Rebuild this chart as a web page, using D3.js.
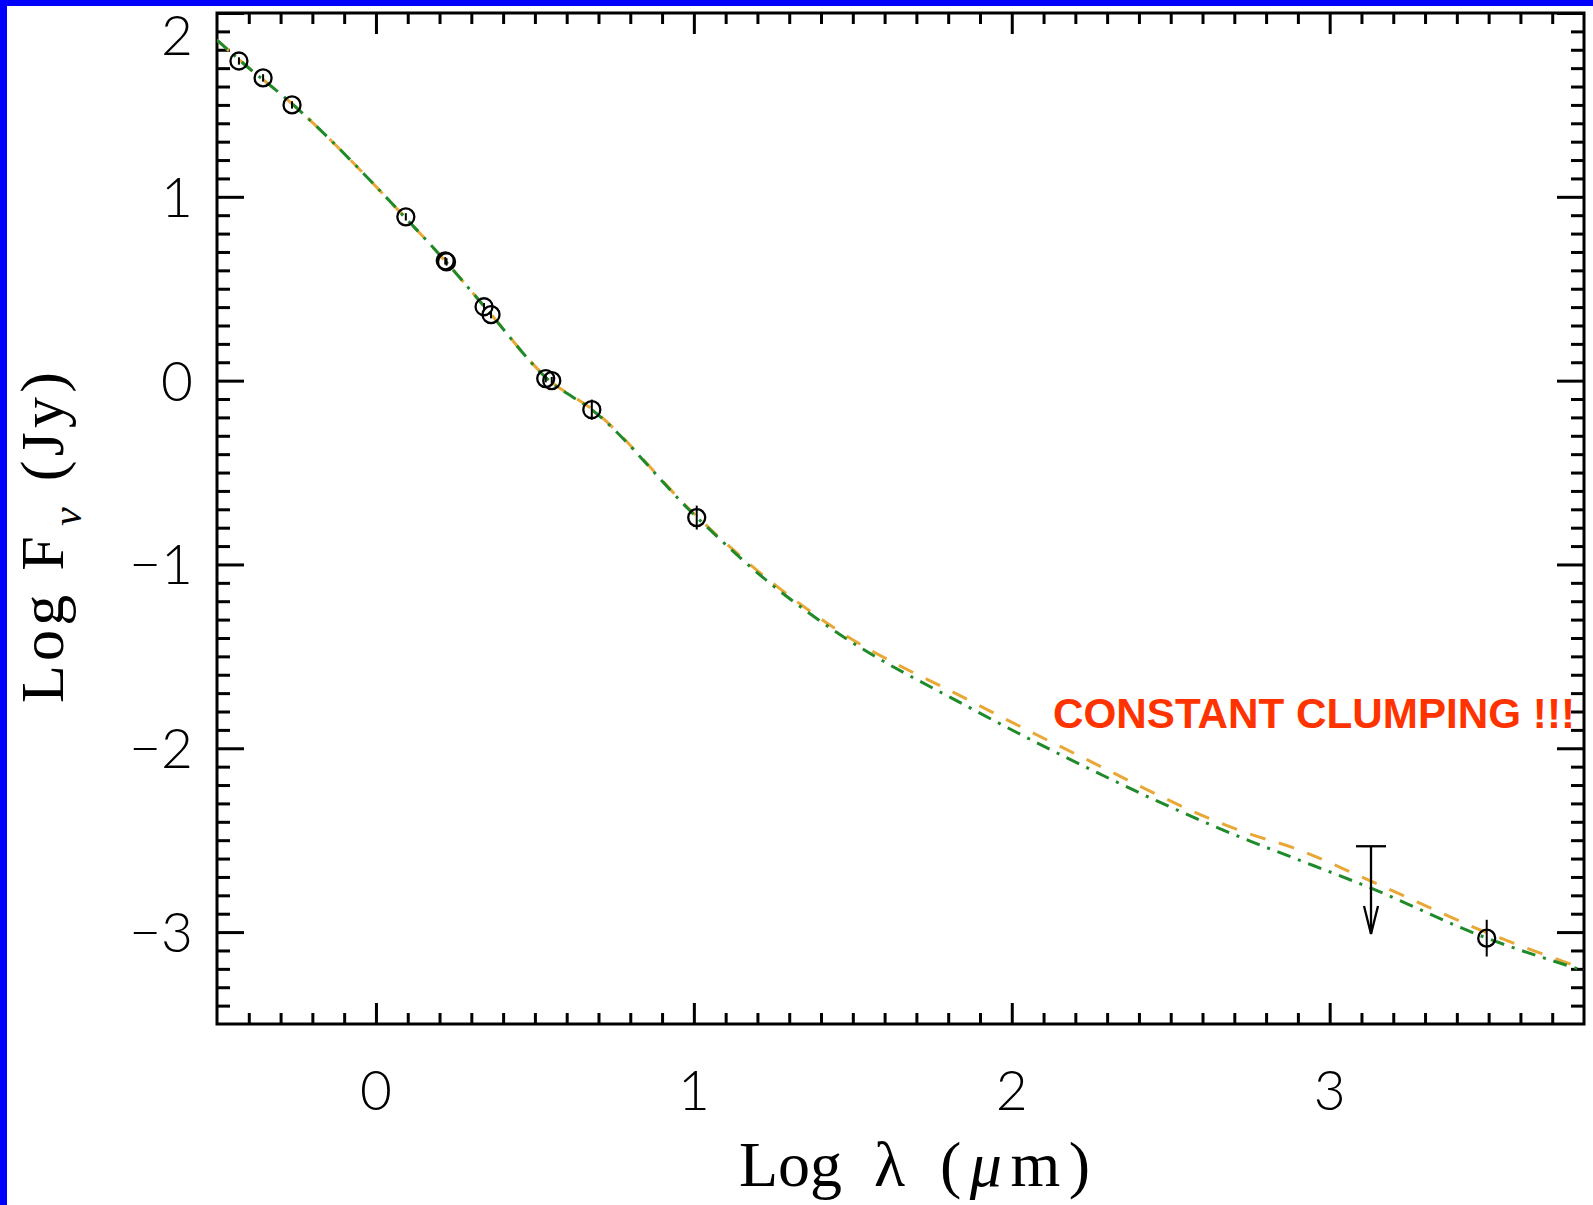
<!DOCTYPE html>
<html>
<head>
<meta charset="utf-8">
<script src="https://cdn.jsdelivr.net/npm/d3@7"></script>
<style>
  html, body { margin: 0; padding: 0; background: #fff; }
  svg { display: block; }
</style>
</head>
<body>
<script>
// ---------------- DATA ----------------
// observed photometry: log wavelength (micron), log flux (Jy), error
const obsLogLambda = [-0.431, -0.355, -0.264, 0.094, 0.218, 0.222, 0.340, 0.362, 0.534, 0.553, 0.679, 1.009, 3.494];
const obsLogFlux   = [1.739, 1.647, 1.500, 0.891, 0.652, 0.646, 0.402, 0.359, 0.011, 0.000, -0.158, -0.745, -3.033];
const obsErr       = [0.02, 0.02, 0.02, 0.02, 0.02, 0.02, 0.02, 0.02, 0.02, 0.02, 0.055, 0.065, 0.10];

// upper limit
const ulLogLambda = [3.13];
const ulLogFlux   = [-2.533];
const ulArrowTip  = [-3.01];

// model curves
const modelLogLambda = [-0.5, -0.43, -0.26, 0.09, 0.22, 0.35, 0.545, 0.68, 1.01, 1.24, 1.45, 1.86, 2.17, 2.75, 2.88, 3.13, 3.49, 3.8];
const modelOrange    = [1.853, 1.745, 1.50, 0.891, 0.647, 0.385, 0.003, -0.156, -0.740, -1.090, -1.355, -1.734, -2.005, -2.467, -2.538, -2.723, -3.000, -3.200];
const modelGreen     = [1.853, 1.745, 1.50, 0.891, 0.647, 0.385, 0.000, -0.160, -0.745, -1.103, -1.370, -1.772, -2.049, -2.505, -2.592, -2.761, -3.030, -3.210];

const xMajorTicks = [0, 1, 2, 3];
const yMajorTicks = [2, 1, 0, -1, -2, -3];
const xTickLabels = ["0", "1", "2", "3"];
const yTickLabels = ["2", "1", "0", "\u22121", "\u22122", "\u22123"];

const annotation = "CONSTANT CLUMPING !!!";

// ---------------- LAYOUT ----------------
const W = 1593, H = 1205;
const L = 217, R = 1584, T = 13, B = 1024;

const svg = d3.select("body").append("svg").attr("width", W).attr("height", H);
svg.append("rect").attr("width", W).attr("height", H).attr("fill", "#fff");
// blue border (left & top)
svg.append("rect").attr("x", 0).attr("y", 0).attr("width", 7).attr("height", H).attr("fill", "#0000ff");
svg.append("rect").attr("x", 0).attr("y", 0).attr("width", W).attr("height", 6).attr("fill", "#0000ff");

const x = d3.scaleLinear().domain([-0.5, 3.8]).range([L, R]);
const y = d3.scaleLinear().domain([-3.5, 2]).range([B, T]);

svg.append("defs").append("clipPath").attr("id", "clip")
  .append("rect").attr("x", L).attr("y", T).attr("width", R - L).attr("height", B - T);

// ---------------- AXES ----------------
const xMinor = d3.range(-4, 38).map(d => d / 10).filter(d => !xMajorTicks.some(m => Math.abs(m - d) < 1e-9));
const yMinor = d3.range(-34, 20).map(d => d / 10).filter(d => !yMajorTicks.some(m => Math.abs(m - d) < 1e-9));

function axisGroup(axis, transform) {
  const g = svg.append("g").attr("transform", transform).call(axis);
  g.select(".domain").remove();
  g.selectAll("line").attr("stroke", "#000").attr("stroke-width", 3);
  g.selectAll("text").remove();
  return g;
}
// bottom & top (ticks pointing inward)
axisGroup(d3.axisTop(x).tickValues(xMajorTicks).tickSize(21), `translate(0,${B})`);
axisGroup(d3.axisTop(x).tickValues(xMinor).tickSize(11), `translate(0,${B})`);
axisGroup(d3.axisBottom(x).tickValues(xMajorTicks).tickSize(21), `translate(0,${T})`);
axisGroup(d3.axisBottom(x).tickValues(xMinor).tickSize(11), `translate(0,${T})`);
// left & right
axisGroup(d3.axisRight(y).tickValues(yMajorTicks).tickSize(27), `translate(${L},0)`);
axisGroup(d3.axisRight(y).tickValues(yMinor).tickSize(13), `translate(${L},0)`);
axisGroup(d3.axisLeft(y).tickValues(yMajorTicks).tickSize(27), `translate(${R},0)`);
axisGroup(d3.axisLeft(y).tickValues(yMinor).tickSize(13), `translate(${R},0)`);

// frame
svg.append("rect").attr("x", L).attr("y", T).attr("width", R - L).attr("height", B - T)
  .attr("fill", "none").attr("stroke", "#000").attr("stroke-width", 3);

// tick labels
const tickFont = "Lato, 'Open Sans', 'DejaVu Sans', sans-serif";
svg.append("g").selectAll("text").data(xMajorTicks).join("text")
  .attr("x", d => x(d)).attr("y", B + 86)
  .attr("text-anchor", "middle")
  .attr("font-family", tickFont).attr("font-weight", 300).attr("font-size", 55)
  .attr("fill", "#000")
  .text((d, i) => xTickLabels[i]);

svg.append("g").selectAll("text").data(yMajorTicks).join("text")
  .attr("x", L - 24)
  .attr("y", d => Math.max(y(d) + 20, 55))
  .attr("text-anchor", "end")
  .attr("font-family", tickFont).attr("font-weight", 300).attr("font-size", 55)
  .attr("fill", "#000")
  .text((d, i) => yTickLabels[i]);

// axis titles
const titleFont = "'Liberation Serif', 'DejaVu Serif', serif";
const xt = svg.append("g")
  .attr("font-family", titleFont).attr("font-size", 64).attr("fill", "#000");
xt.append("text").attr("x", 739).attr("y", 1186).text("Log");
xt.append("text").attr("x", 874).attr("y", 1186).text("\u03bb");
xt.append("text").attr("x", 940).attr("y", 1186)
  .attr("textLength", 150).attr("lengthAdjust", "spacing")
  .html("(<tspan font-style='italic'>\u03bc</tspan>m)");

const yt = svg.append("text")
  .attr("transform", "translate(63,703) rotate(-90)")
  .attr("x", 0).attr("y", 0)
  .attr("font-family", titleFont).attr("font-size", 62)
  .attr("fill", "#000");
yt.append("tspan").text("Log F");
yt.append("tspan").attr("dx", 6).attr("dy", 18).attr("font-size", 42).attr("font-style", "italic").text("\u03bd");
yt.append("tspan").attr("dx", 22).attr("dy", -18).text("(Jy)");
yt.attr("textLength", 331).attr("lengthAdjust", "spacing");

// ---------------- MODEL CURVES ----------------
const plot = svg.append("g").attr("clip-path", "url(#clip)");
const line = d3.line().x(d => x(d[0])).y(d => y(d[1])).curve(d3.curveMonotoneX);

plot.append("path")
  .datum(modelLogLambda.map((v, i) => [v, modelOrange[i]]))
  .attr("d", line).attr("fill", "none")
  .attr("stroke", "#e9a836").attr("stroke-width", 3)
  .attr("stroke-dasharray", "16,14");

plot.append("path")
  .datum(modelLogLambda.map((v, i) => [v, modelGreen[i]]))
  .attr("d", line).attr("fill", "none")
  .attr("stroke", "#1f8a2a").attr("stroke-width", 3)
  .attr("stroke-dasharray", "14,8,3,8");

// ---------------- OBSERVATIONS ----------------
const obs = obsLogLambda.map((v, i) => ({ x: v, y: obsLogFlux[i], e: obsErr[i] }));
const og = svg.append("g");
og.selectAll("line.err").data(obs).join("line").attr("class", "err")
  .attr("x1", d => x(d.x)).attr("x2", d => x(d.x))
  .attr("y1", d => y(d.y - d.e)).attr("y2", d => y(d.y + d.e))
  .attr("stroke", "#000").attr("stroke-width", 2);
og.selectAll("circle").data(obs).join("circle")
  .attr("cx", d => x(d.x)).attr("cy", d => y(d.y)).attr("r", 8.5)
  .attr("fill", "none").attr("stroke", "#000").attr("stroke-width", 2.3);

// upper limit
const ul = ulLogLambda.map((v, i) => ({ x: v, y: ulLogFlux[i], tip: ulArrowTip[i] }));
const ug = svg.append("g").attr("stroke", "#000").attr("stroke-width", 2.3).attr("fill", "none");
ul.forEach(d => {
  const cx = x(d.x), y0 = y(d.y), y1 = y(d.tip);
  ug.append("line").attr("x1", cx - 15).attr("x2", cx + 15).attr("y1", y0).attr("y2", y0);
  ug.append("line").attr("x1", cx).attr("x2", cx).attr("y1", y0).attr("y2", y1);
  ug.append("path").attr("d", `M${cx - 7},${y1 - 28}L${cx},${y1}L${cx + 7},${y1 - 28}`);
});

// annotation
svg.append("text")
  .attr("x", 1053).attr("y", 728)
  .attr("font-family", "'Liberation Sans', Arial, sans-serif")
  .attr("font-weight", "bold").attr("font-size", 43)
  .attr("textLength", 522).attr("lengthAdjust", "spacingAndGlyphs")
  .attr("fill", "#ff3300")
  .text(annotation);
</script>
</body>
</html>
